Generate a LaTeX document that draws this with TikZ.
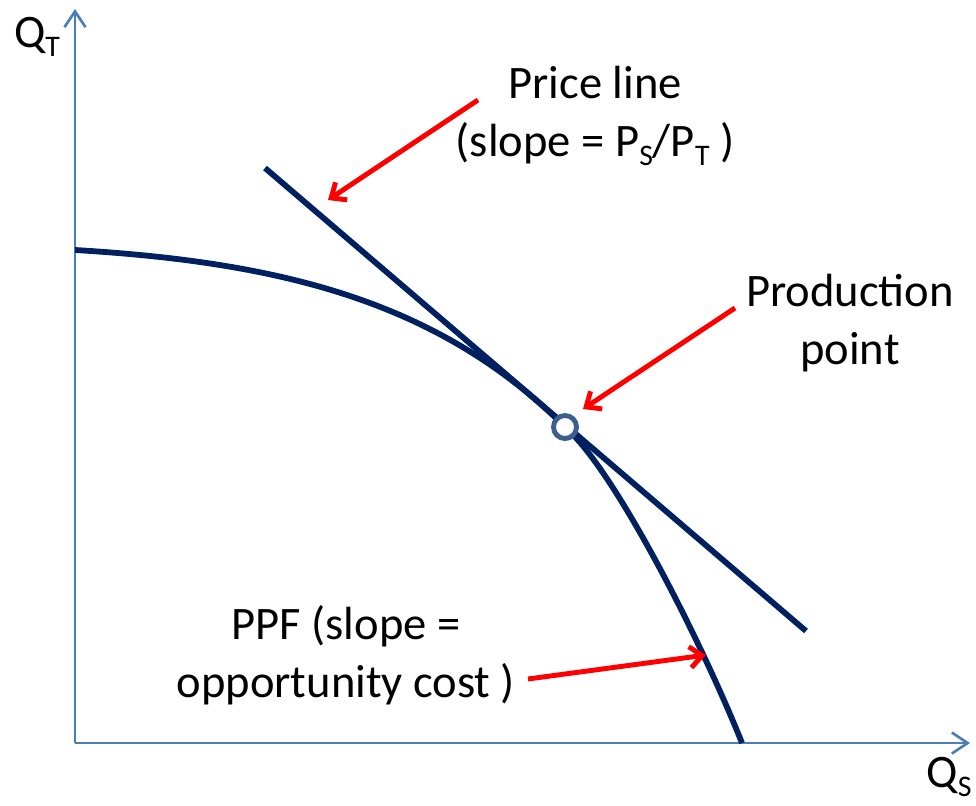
\documentclass[tikz,border=0pt]{standalone}
\usepackage{fontspec}
\setmainfont{Carlito}
\usetikzlibrary{arrows.meta, positioning}

\definecolor{axisblue}{RGB}{74,126,187}
\definecolor{ppfnavy}{RGB}{0,32,96}
\definecolor{dotblue}{RGB}{60,95,145}

\newcommand{\lowsub}[1]{\raisebox{-5.5pt}{\fontsize{17}{17}\selectfont #1}}

\begin{document}
\begin{tikzpicture}[x=0.02cm, y=-0.02cm, font=\fontsize{26.5}{33}\selectfont,
  axis/.style={axisblue, line width=1.5pt,
               -{Straight Barb[length=9pt, width=12pt, line width=1.5pt]}},
  curve/.style={ppfnavy, line width=3.3pt},
  pointer/.style={red, line width=2.8pt,
                  -{Straight Barb[length=7pt, width=12pt, line width=2.8pt]}},
  caption/.style={align=center, inner sep=0pt}]

\useasboundingbox (0,0) rectangle (976,805);

% ---- Axes ---------------------------------------------------------------
\coordinate (origin) at (75,743);
\coordinate (ytip) at (75,9);
\coordinate (xtip) at (970,743);
\draw[axis] (origin) -- (ytip);
\draw[axis] (origin) -- (xtip);
\node[anchor=base, inner sep=0pt] (qt) at (37,47) {Q\lowsub{T}};
\node[anchor=base, inner sep=0pt] (qs) at (949,787) {Q\lowsub{S}};

% ---- PPF and price line -------------------------------------------------
\coordinate (tangent) at (565,427);
\draw[curve] (75,250) .. controls (275,262) and (437,299) .. (tangent)
             .. controls (615,470) and (702,643) .. (742,743);
\draw[curve] (265,168) -- (806,631);
\draw[dotblue, fill=white, line width=2.8pt] (tangent) circle (11.5);

% ---- Labels -------------------------------------------------------------
\node[caption] (priceLabel) at (595,116)
     {Price line\\(slope = P\lowsub{S}/P\lowsub{T} )};
\node[caption] (prodLabel) at (850,323) {Production\\point};
\node[caption] (ppfLabel) at (346,655) {PPF (slope =\\opportunity cost )};

% ---- Pointers -----------------------------------------------------------
\coordinate (priceTail) at (478,100);
\coordinate (priceTip) at (328,200);
\coordinate (prodTail) at (735,308);
\coordinate (prodTip) at (583,409);
\coordinate (ppfTail) at (528,679);
\coordinate (ppfTip) at (706,655);
\draw[pointer] (priceTail) -- (priceTip);
\draw[pointer] (prodTail) -- (prodTip);
\draw[pointer] (ppfTail) -- (ppfTip);

\end{tikzpicture}
\end{document}
